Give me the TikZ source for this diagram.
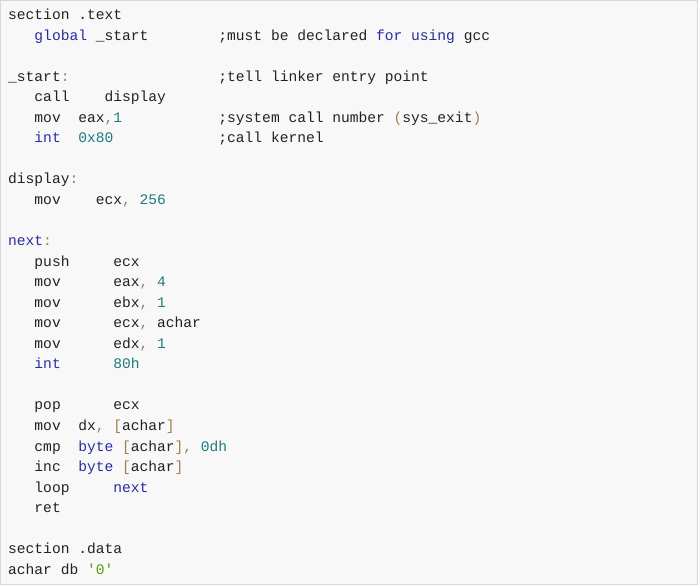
\documentclass[tikz,border=0pt]{standalone}
\usepackage{fontspec}
\newfontfamily\code{Liberation Mono}
\definecolor{kw}{HTML}{2B2BA0}
\definecolor{nm}{HTML}{1F7A80}
\definecolor{pu}{HTML}{A08050}
\definecolor{st}{HTML}{5E9A10}
\definecolor{tx}{HTML}{222222}
\definecolor{bg}{HTML}{F8F8F8}
\definecolor{bd}{HTML}{D8D8D8}
\newcommand\CK[1]{\textcolor{kw}{#1}}
\newcommand\CN[1]{\textcolor{nm}{#1}}
\newcommand\CP[1]{\textcolor{pu}{#1}}
\newcommand\CS[1]{\textcolor{st}{#1}}
\tikzset{codeline/.style={anchor=base west,inner sep=0pt,font=\code\fontsize{14.6pt}{16pt}\selectfont,text=tx}}
\newcommand\CL[4]{\node[codeline] (#1) at (8pt+#2*8.76pt,{-19.5pt-#3*20.55pt}) {#4};}
\begin{document}
\begin{tikzpicture}[x=1pt,y=1pt]
\useasboundingbox (0,0) rectangle (700,-585);
\draw[bd,fill=bg] (0.5,-0.5) rectangle (697.5,-584.5);
\CL{l0}{0}{0}{section .text}
\CL{l1}{3}{1}{\CK{global} \_start}
\CL{c1}{24}{1}{;must be declared \CK{for} \CK{using} gcc}
\CL{l3}{0}{3}{\_start\CP{:}}
\CL{c3}{24}{3}{;tell linker entry point}
\CL{l4}{3}{4}{call~~~~display}
\CL{l5}{3}{5}{mov~~eax\CP{,}\CN{1}}
\CL{c5}{24}{5}{;system call number \CP{(}sys\_exit\CP{)}}
\CL{l6}{3}{6}{\CK{int}~~\CN{0x80}}
\CL{c6}{24}{6}{;call kernel}
\CL{l8}{0}{8}{display\CP{:}}
\CL{l9}{3}{9}{mov~~~~ecx\CP{,} \CN{256}}
\CL{l11}{0}{11}{\CK{next}\CP{:}}
\CL{l12}{3}{12}{push~~~~~ecx}
\CL{l13}{3}{13}{mov~~~~~~eax\CP{,} \CN{4}}
\CL{l14}{3}{14}{mov~~~~~~ebx\CP{,} \CN{1}}
\CL{l15}{3}{15}{mov~~~~~~ecx\CP{,} achar}
\CL{l16}{3}{16}{mov~~~~~~edx\CP{,} \CN{1}}
\CL{l17}{3}{17}{\CK{int}~~~~~~\CN{80h}}
\CL{l19}{3}{19}{pop~~~~~~ecx}
\CL{l20}{3}{20}{mov~~dx\CP{,} \CP{[}achar\CP{]}}
\CL{l21}{3}{21}{cmp~~\CK{byte} \CP{[}achar\CP{],} \CN{0dh}}
\CL{l22}{3}{22}{inc~~\CK{byte} \CP{[}achar\CP{]}}
\CL{l23}{3}{23}{loop~~~~~\CK{next}}
\CL{l24}{3}{24}{ret}
\CL{l26}{0}{26}{section .data}
\CL{l27}{0}{27}{achar db \CS{'0'}}
\end{tikzpicture}
\end{document}
